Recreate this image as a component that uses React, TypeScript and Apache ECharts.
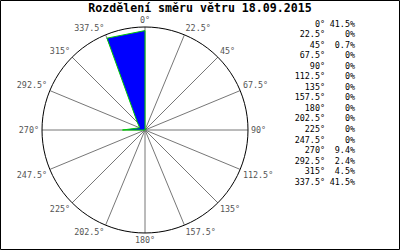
import React, { useEffect, useRef } from "react";
import * as echarts from "echarts";

const titleText = "Rozdělení směru větru 18.09.2015";
const directions = [0, 22.5, 45, 67.5, 90, 112.5, 135, 157.5, 180, 202.5, 225, 247.5, 270, 292.5, 315, 337.5];
const values = [41.5, 0, 0.7, 0, 0, 0, 0, 0, 0, 0, 0, 0, 9.4, 2.4, 4.5, 41.5];

const MONO = "'DejaVu Sans Mono', 'Liberation Mono', monospace";

export default function App() {
  const ref = useRef<HTMLDivElement>(null);
  useEffect(() => {
    if (!ref.current) return;
    const chart = echarts.init(ref.current, null, { renderer: "svg" });
    const data = directions.map((a, i) => [values[i], a]);
    data.push([values[0], 360]);

    const legend: any[] = [];
    directions.forEach((d, i) => {
      const y = 23.5 + i * 10.55;
      legend.push({
        type: "text",
        x: 325,
        y,
        style: { text: `${d}°`, align: "right", verticalAlign: "middle", font: `8.4px ${MONO}`, fill: "#000" },
      });
      legend.push({
        type: "text",
        x: 355,
        y,
        style: { text: `${values[i]}%`, align: "right", verticalAlign: "middle", font: `8.4px ${MONO}`, fill: "#000" },
      });
    });

    chart.setOption({
      animation: false,
      backgroundColor: "#fff",
      graphic: [
        {
          type: "rect",
          shape: { x: 0.5, y: 0.5, width: 399, height: 249 },
          style: { fill: "none", stroke: "#000", lineWidth: 1 },
          silent: true,
        },
        {
          type: "text",
          x: 200,
          y: 8,
          style: {
            text: titleText,
            align: "center",
            verticalAlign: "middle",
            font: `bold 11.6px ${MONO}`,
            fill: "#000",
          },
        },
        ...legend,
      ],
      polar: { center: [145, 130], radius: 103 },
      angleAxis: {
        type: "value",
        min: 0,
        max: 360,
        interval: 22.5,
        startAngle: 90,
        clockwise: true,
        axisLine: { show: true, lineStyle: { color: "#000", width: 1 } },
        axisTick: { show: false },
        splitLine: { show: true, lineStyle: { color: "#777", width: 1 } },
        axisLabel: {
          margin: 3,
          color: "#555",
          fontFamily: MONO,
          fontSize: 8.4,
          lineHeight: 8,
          formatter: (v: number) => (v >= 360 ? "" : `${v}°`),
        },
      },
      radiusAxis: {
        type: "value",
        min: 0,
        max: 43,
        show: false,
        axisLine: { show: false },
        axisTick: { show: false },
        axisLabel: { show: false },
        splitLine: { show: false },
      },
      series: [
        {
          type: "line",
          coordinateSystem: "polar",
          data,
          symbol: "none",
          lineStyle: { color: "#00cc00", width: 1 },
          areaStyle: { color: "#0000ff", opacity: 1 },
          z: 3,
        },
      ],
    });
    return () => chart.dispose();
  }, []);
  return <div ref={ref} style={{ position: "absolute", left: 0, top: 0, width: 400, height: 250 }} />;
}
